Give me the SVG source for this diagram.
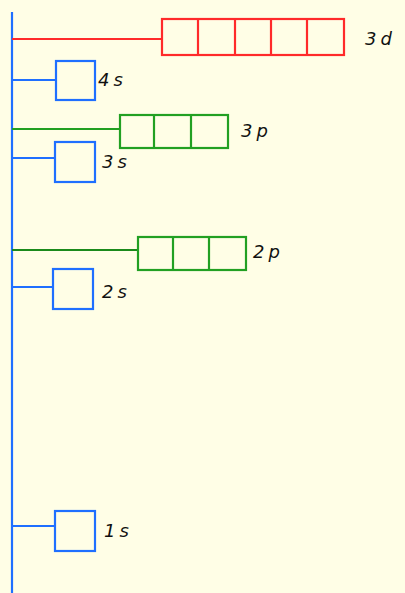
<svg xmlns="http://www.w3.org/2000/svg" width="405" height="593" viewBox="0 0 405 593">
<style>
.b{fill:none;stroke:#1f6fff;stroke-width:2.2}
.r{fill:none;stroke:#ff2a2a;stroke-width:2.2}
.g{fill:none;stroke:#22a022;stroke-width:2.2}
.g2{fill:none;stroke:#1a8a1a;stroke-width:2.2}
text{font-family:"Comic Sans MS","DejaVu Sans",sans-serif;font-size:18px;font-style:italic;fill:#111;letter-spacing:4px}
</style>
<rect width="405" height="593" fill="#fffee6"/>
<g id="connectors">
<line class="b" x1="12" y1="12" x2="12" y2="593"/>
<line class="r" x1="12" y1="39" x2="162" y2="39"/>
<line class="b" x1="12" y1="80" x2="56" y2="80"/>
<line class="g" x1="12" y1="129" x2="120" y2="129"/>
<line class="b" x1="12" y1="158" x2="55" y2="158"/>
<line class="g2" x1="12" y1="250" x2="138" y2="250"/>
<line class="b" x1="12" y1="287" x2="53" y2="287"/>
<line class="b" x1="12" y1="526" x2="55" y2="526"/>
</g>
<g id="n3d">
<rect class="r" x="162" y="19" width="182" height="36"/>
<line class="r" x1="198" y1="19" x2="198" y2="55"/>
<line class="r" x1="235" y1="19" x2="235" y2="55"/>
<line class="r" x1="271" y1="19" x2="271" y2="55"/>
<line class="r" x1="307" y1="19" x2="307" y2="55"/>
<text x="365" y="45">3d</text>
</g>
<g id="n4s">
<rect class="b" x="56" y="61" width="39" height="39"/>
<text x="98" y="86">4s</text>
</g>
<g id="n3p">
<rect class="g" x="120" y="115" width="108" height="33"/>
<line class="g" x1="154" y1="115" x2="154" y2="148"/>
<line class="g" x1="191" y1="115" x2="191" y2="148"/>
<text x="241" y="137">3p</text>
</g>
<g id="n3s">
<rect class="b" x="55" y="142" width="40" height="40"/>
<text x="102" y="168">3s</text>
</g>
<g id="n2p">
<rect class="g" x="138" y="237" width="108" height="33"/>
<line class="g" x1="173" y1="237" x2="173" y2="270"/>
<line class="g" x1="209" y1="237" x2="209" y2="270"/>
<text x="253" y="258">2p</text>
</g>
<g id="n2s">
<rect class="b" x="53" y="269" width="40" height="40"/>
<text x="102" y="298">2s</text>
</g>
<g id="n1s">
<rect class="b" x="55" y="511" width="40" height="40"/>
<text x="104" y="537">1s</text>
</g>
</svg>
